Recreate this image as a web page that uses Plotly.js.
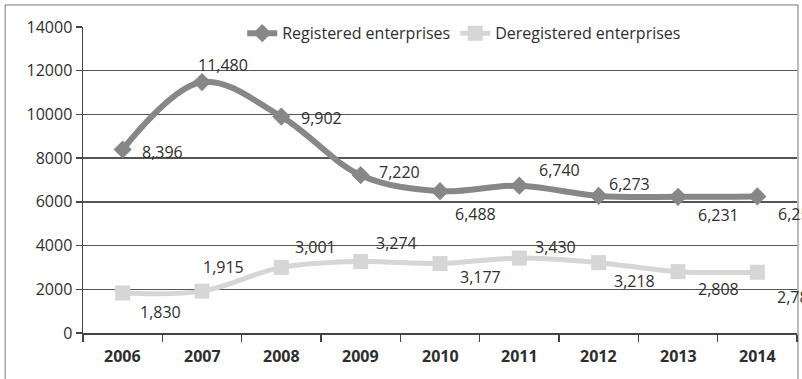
<!DOCTYPE html>
<html>
<head>
<meta charset="utf-8">
<script src="https://cdn.plot.ly/plotly-3.0.1.min.js"></script>
<style>html,body{margin:0;padding:0;background:#fff;}#chart{width:802px;height:379px;}</style>
</head>
<body>
<div id="chart"></div>
<script>
const years = ["2006","2007","2008","2009","2010","2011","2012","2013","2014"];
const registered = [8396, 11480, 9902, 7220, 6488, 6740, 6273, 6231, 6250];
const deregistered = [1830, 1915, 3001, 3274, 3177, 3430, 3218, 2808, 2780];
const seriesNames = ["Registered enterprises", "Deregistered enterprises"];
const yTicks = [0, 2000, 4000, 6000, 8000, 10000, 12000, 14000];

// label offsets (px) relative to each point: [xshift, yshift]
const regOffsets = [[40,-3],[21,17],[40,-1],[39,3],[35,-23],[40,16],[31,12],[40,-18],[41,-18]];
const deregOffsets = [[38,-19],[21,24],[34,20],[36,18],[40,-13],[36,11],[36,-18],[40,-17],[40,-25]];

const FONT = "Open Sans, Liberation Sans, sans-serif";
const TXT = "#2e2e2e";
const fmt = v => v.toLocaleString("en-US");

const traces = [
  {x: years, y: registered, name: seriesNames[0], type: "scatter", mode: "lines+markers",
   line: {color: "#878787", width: 6, shape: "spline", smoothing: 1},
   marker: {symbol: "diamond", size: 14, color: "#878787"}},
  {x: years, y: deregistered, name: seriesNames[1], type: "scatter", mode: "lines+markers",
   line: {color: "#d6d6d6", width: 5, shape: "spline", smoothing: 1},
   marker: {symbol: "square", size: 15, color: "#d6d6d6"}}
];

const annotations = [];
[[registered, regOffsets], [deregistered, deregOffsets]].forEach(([vals, offs]) => {
  vals.forEach((v, i) => {
    annotations.push({x: i, y: v, xref: "x", yref: "y", text: fmt(v), showarrow: false,
      xshift: offs[i][0], yshift: offs[i][1], font: {family: FONT, size: 16, color: TXT}});
  });
});
// category labels under the axis (placed through the x axis scale)
years.forEach((yr, i) => {
  annotations.push({x: i, y: 0, xref: "x", yref: "paper", yanchor: "top", yshift: -10,
    text: "<b>" + yr + "</b>", showarrow: false, font: {family: FONT, size: 16, color: TXT}});
});

const layout = {
  width: 802, height: 379,
  margin: {l: 83, r: 5, t: 27, b: 46},
  paper_bgcolor: "#fff", plot_bgcolor: "#fff",
  showlegend: true,
  legend: {orientation: "h", x: 0.223, y: 1.035, xanchor: "left", yanchor: "top",
    bgcolor: "rgba(0,0,0,0)", font: {family: FONT, size: 16, color: TXT}},
  xaxis: {type: "category", categoryorder: "array", categoryarray: years, range: [-0.5, 8.5],
    tickson: "boundaries", ticks: "outside", ticklen: 7, tickcolor: "#444", tickwidth: 1.5,
    showticklabels: false,
    showline: true, linecolor: "#444", linewidth: 1.5, showgrid: false},
  yaxis: {range: [0, 14000], tickvals: yTicks, tickformat: "d", ticks: "outside", ticklen: 6,
    tickcolor: "#444", tickwidth: 1.5, showline: true, linecolor: "#444", linewidth: 1.5,
    showgrid: true, gridcolor: "#555", gridwidth: 1.5, zeroline: false,
    tickfont: {family: FONT, size: 16, color: TXT}},
  annotations: annotations,
  shapes: [{type: "rect", xref: "paper", yref: "paper", x0: -0.109, x1: 1.0014, y0: -0.3, y1: 1.072,
    line: {color: "#777", width: 1}, fillcolor: "rgba(0,0,0,0)", layer: "below"}]
};

Plotly.newPlot("chart", traces, layout, {displayModeBar: false, staticPlot: true});
</script>
</body>
</html>
